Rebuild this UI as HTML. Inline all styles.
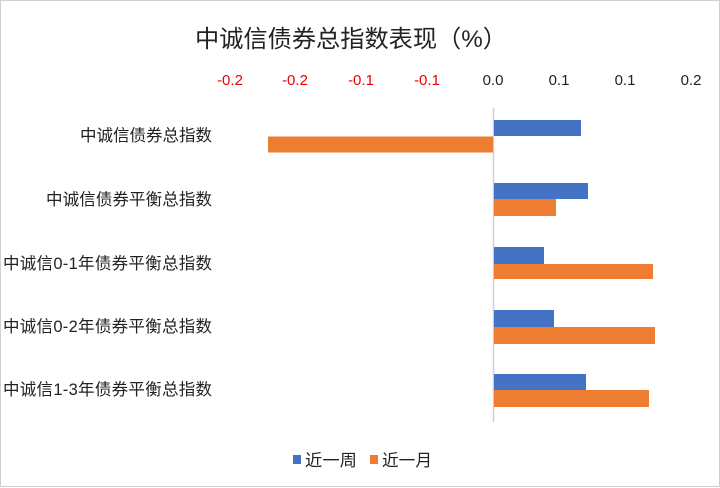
<!DOCTYPE html>
<html><head><meta charset="utf-8"><style>
html,body{margin:0;padding:0;background:#fff}
svg{display:block}
text{font-family:"Liberation Sans","Noto Sans CJK SC",sans-serif}
</style></head><body>
<svg width="720" height="488" viewBox="0 0 720 488">
<rect x="0.5" y="0.5" width="719" height="486" fill="#fff" stroke="#d0d0d0"/>
<text x="195" y="47" font-size="24" fill="#222" textLength="312" lengthAdjust="spacingAndGlyphs">中诚信债券总指数表现（%）</text>
<g font-size="15" text-anchor="middle">
<text x="230" y="85" fill="#e00">-0.2</text>
<text x="295" y="85" fill="#e00">-0.2</text>
<text x="361" y="85" fill="#e00">-0.1</text>
<text x="427" y="85" fill="#e00">-0.1</text>
<text x="493" y="85" fill="#222">0.0</text>
<text x="559" y="85" fill="#222">0.1</text>
<text x="625" y="85" fill="#222">0.1</text>
<text x="691" y="85" fill="#222">0.2</text>
</g>
<line x1="493.5" y1="108" x2="493.5" y2="422" stroke="#d0d0d0" stroke-width="1.5"/>
<g fill="#4472c4">
<rect x="494" y="120" width="87" height="16"/>
<rect x="494" y="183" width="94" height="16"/>
<rect x="494" y="247" width="50" height="17"/>
<rect x="494" y="310" width="60" height="17"/>
<rect x="494" y="374" width="92" height="16"/>
</g>
<g fill="#ed7d31">
<rect x="268" y="136.5" width="225" height="16"/>
<rect x="494" y="199" width="62" height="17"/>
<rect x="494" y="264" width="159" height="15"/>
<rect x="494" y="327" width="161" height="17"/>
<rect x="494" y="390" width="155" height="17"/>
</g>
<g font-size="16.5" fill="#222" lengthAdjust="spacingAndGlyphs">
<text x="80" y="141" textLength="132">中诚信债券总指数</text>
<text x="46" y="205" textLength="166">中诚信债券平衡总指数</text>
<text x="3" y="269" textLength="209">中诚信0-1年债券平衡总指数</text>
<text x="3" y="332" textLength="209">中诚信0-2年债券平衡总指数</text>
<text x="3" y="395" textLength="209">中诚信1-3年债券平衡总指数</text>
</g>
<rect x="293" y="455" width="8" height="9" fill="#4472c4"/>
<text x="305" y="466" font-size="16.5" fill="#222" textLength="52" lengthAdjust="spacingAndGlyphs">近一周</text>
<rect x="370" y="455" width="8" height="9" fill="#ed7d31"/>
<text x="382" y="466" font-size="16.5" fill="#222" textLength="50" lengthAdjust="spacingAndGlyphs">近一月</text>
</svg>
</body></html>
